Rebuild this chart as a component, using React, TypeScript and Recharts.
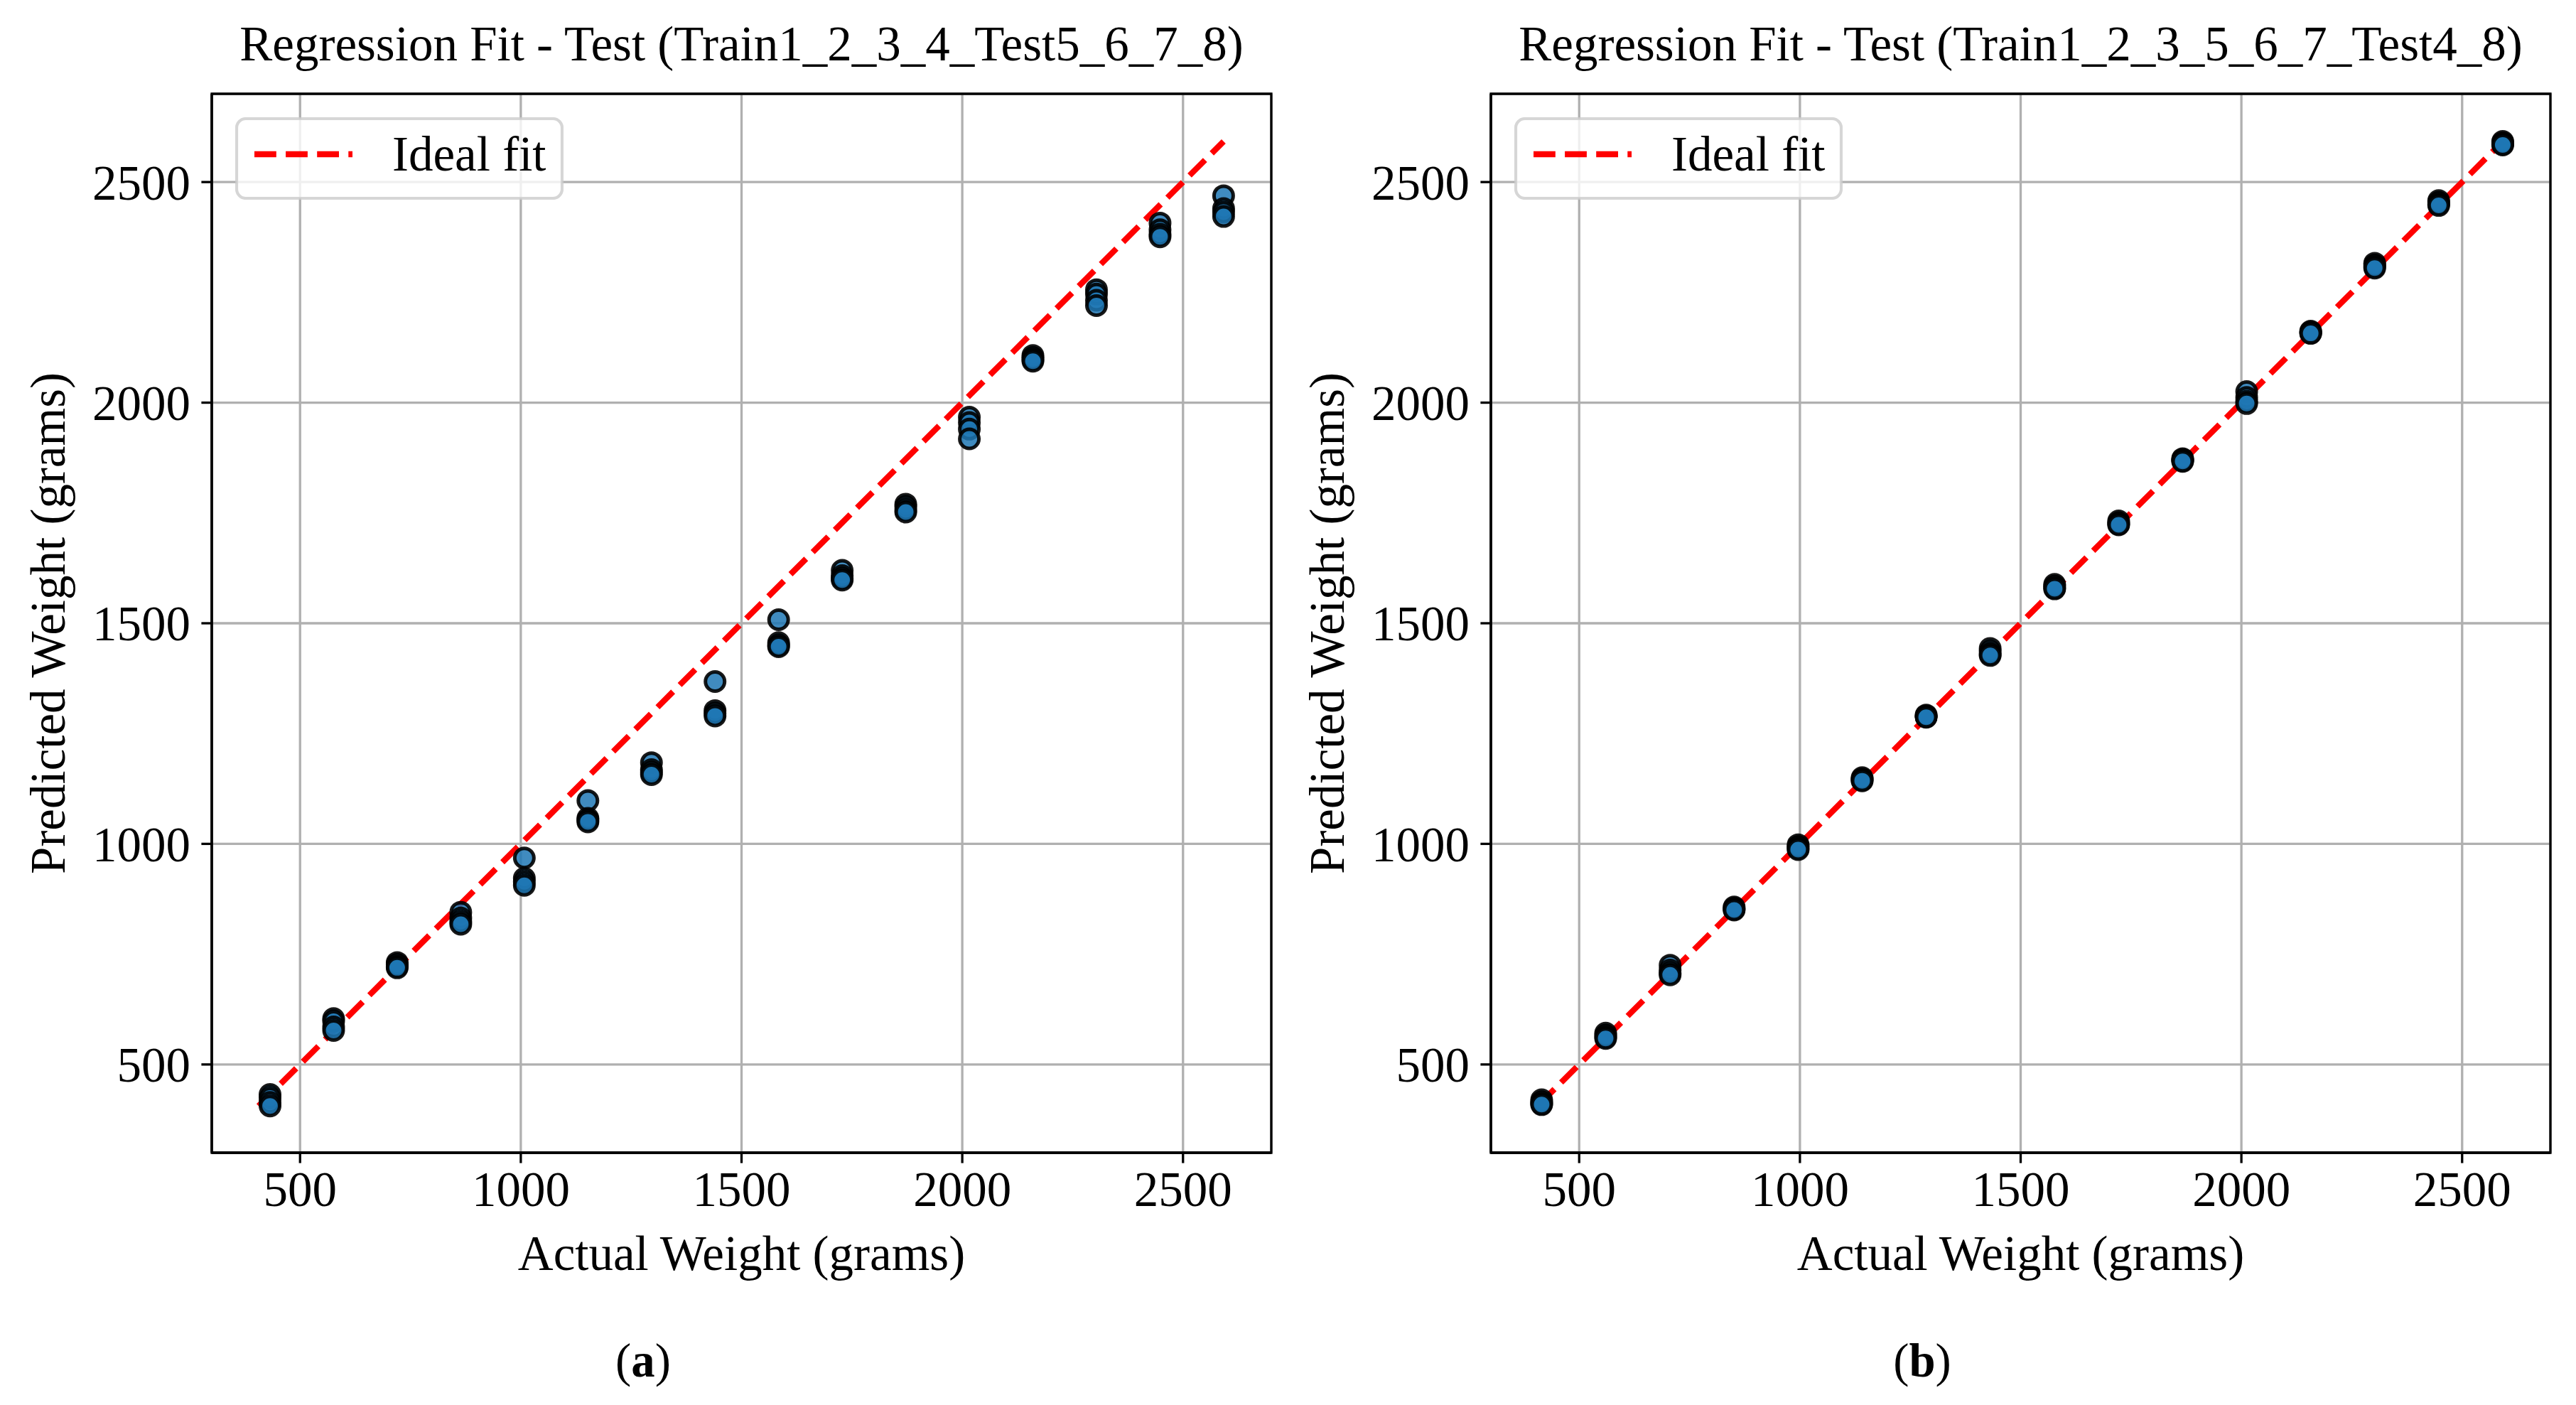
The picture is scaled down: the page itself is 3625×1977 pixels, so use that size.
import { ScatterChart, Scatter, XAxis, YAxis, CartesianGrid, Legend, ReferenceArea, Label } from 'recharts';

const FONT = "'Liberation Serif', 'Times New Roman', serif";
const FS = 69;

// actual weights (x) and the predicted weights at each of them (y)
const actualA = [432, 576, 720, 864, 1008, 1152, 1296, 1440, 1584, 1728, 1872, 2016, 2160, 2304, 2448, 2592];
const predictedA = [
  [432, 424, 414, 406],
  [604, 598, 585, 577],
  [731, 727, 722, 719],
  [845, 832, 824, 818],
  [968, 922, 914, 906],
  [1098, 1058, 1054, 1050],
  [1184, 1168, 1162, 1157],
  [1368, 1302, 1296, 1290],
  [1508, 1456, 1450, 1447],
  [1620, 1608, 1602, 1598],
  [1770, 1764, 1757, 1752],
  [1967, 1955, 1940, 1918],
  [2107, 2102, 2098, 2094],
  [2256, 2246, 2232, 2220],
  [2407, 2392, 2382, 2376],
  [2469, 2440, 2432, 2422],
];

const actualB = [415, 560, 706, 851, 996, 1141, 1286, 1431, 1577, 1722, 1867, 2012, 2157, 2302, 2447, 2592];
const predictedB = [
  [420, 415, 411, 409],
  [571, 566, 562, 559],
  [725, 714, 707, 703],
  [857, 854, 852, 850],
  [998, 994, 990, 987],
  [1150, 1147, 1145, 1143],
  [1292, 1290, 1288, 1287],
  [1443, 1436, 1430, 1427],
  [1588, 1584, 1580, 1578],
  [1732, 1728, 1725, 1723],
  [1873, 1871, 1869, 1867],
  [2025, 2012, 2003, 1998],
  [2162, 2160, 2158, 2157],
  [2316, 2312, 2308, 2305],
  [2458, 2454, 2450, 2447],
  [2592, 2589, 2586, 2584],
];

const ticks = [500, 1000, 1500, 2000, 2500];
const domain: [number, number] = [300, 2700];
const titleA = 'Regression Fit - Test (Train1_2_3_4_Test5_6_7_8)';
const titleB = 'Regression Fit - Test (Train1_2_3_5_6_7_Test4_8)';

const toPoints = (actual: number[], predicted: number[][]) =>
  actual.flatMap((x, i) => predicted[i].map((y) => ({ x, y })));

const idealLine = (actual: number[], predicted: number[][]) => {
  const all = [...actual, ...predicted.flat()];
  const lo = Math.min(...all);
  const hi = Math.max(...all);
  return [{ x: lo, y: lo }, { x: hi, y: hi }];
};

const Dot = (props: any) => (
  <circle
    cx={props.cx}
    cy={props.cy}
    r={13.5}
    fill="#1f77b4"
    fillOpacity={0.85}
    stroke="#000"
    strokeOpacity={0.9}
    strokeWidth={5}
  />
);

const LegendBox = (props: any) => {
  const items = (props.payload || []).filter((p: any) => p.type !== 'none');
  return (
    <svg width={462} height={116}>
      <rect x={2} y={2} width={458} height={112} rx={13} fill="#fff" fillOpacity={0.8} stroke="#ccc" strokeOpacity={0.8} strokeWidth={4.2} />
      {items.map((it: any) => (
        <g key={it.value}>
          <line x1={27} x2={165} y1={52} y2={52} stroke="#ff0000" strokeWidth={8.3} strokeDasharray="30.8 13.3" />
          <text x={221} y={75} fontFamily={FONT} fontSize={FS} fill="#000">{it.value}</text>
        </g>
      ))}
    </svg>
  );
};

const tickStyle = { fill: '#000', fontSize: FS, fontFamily: FONT };

function Panel({ actual, predicted }: { actual: number[]; predicted: number[][] }) {
  const points = toPoints(actual, predicted);
  const line = idealLine(actual, predicted);
  return (
    <ScatterChart width={1800} height={1977} margin={{ top: 132, right: 11, left: 0, bottom: 0 }}>
      <CartesianGrid stroke="#b0b0b0" strokeWidth={3.3} />
      <XAxis
        type="number"
        dataKey="x"
        domain={domain}
        ticks={ticks}
        height={355}
        tickSize={14.6}
        tickMargin={11}
        tick={tickStyle}
        axisLine={{ stroke: '#000', strokeWidth: 3.3 }}
        tickLine={{ stroke: '#000', strokeWidth: 3.3 }}
      >
        <Label
          content={(p: any) => (
            <text x={p.viewBox.x + p.viewBox.width / 2} y={p.viewBox.y + 165} textAnchor="middle" fontFamily={FONT} fontSize={FS} fill="#000">
              Actual Weight (grams)
            </text>
          )}
        />
      </XAxis>
      <YAxis
        type="number"
        dataKey="y"
        domain={domain}
        ticks={ticks}
        width={298}
        tickSize={14.6}
        tickMargin={15.4}
        tick={tickStyle}
        axisLine={{ stroke: '#000', strokeWidth: 3.3 }}
        tickLine={{ stroke: '#000', strokeWidth: 3.3 }}
      >
        <Label
          content={(p: any) => {
            const cx = 91;
            const cy = p.viewBox.y + p.viewBox.height / 2;
            return (
              <text x={cx} y={cy} transform={`rotate(-90, ${cx}, ${cy})`} textAnchor="middle" fontFamily={FONT} fontSize={FS} fill="#000">
                Predicted Weight (grams)
              </text>
            );
          }}
        />
      </YAxis>
      <Legend
        layout="horizontal"
        verticalAlign="middle"
        content={LegendBox}
        wrapperStyle={{ left: 331, top: 165, width: 462, height: 116 }}
      />
      <Scatter
        name="Ideal fit"
        data={line}
        legendType="line"
        fill="#ff0000"
        line={{ stroke: '#ff0000', strokeWidth: 8.3, strokeDasharray: '30.8 13.3' }}
        lineType="joint"
        shape={() => <g />}
        isAnimationActive={false}
      />
      <Scatter name="points" data={points} legendType="none" shape={Dot} isAnimationActive={false} />
      <ReferenceArea x1={300} x2={2700} y1={300} y2={2700} fill="none" stroke="#000" strokeWidth={3.3} />
    </ScatterChart>
  );
}

export default function App() {
  const text = { fontFamily: FONT, fontSize: FS, fill: '#000' };
  return (
    <div style={{ position: 'relative', width: 3625, height: 1977, background: '#fff' }}>
      <style>{'body{margin:0}'}</style>
      <div style={{ position: 'absolute', left: 0, top: 0 }}>
        <Panel actual={actualA} predicted={predictedA} />
      </div>
      <div style={{ position: 'absolute', left: 1800, top: 0 }}>
        <Panel actual={actualB} predicted={predictedB} />
      </div>
      <svg width={3625} height={1977} style={{ position: 'absolute', left: 0, top: 0, pointerEvents: 'none' }}>
        <text x={1043.5} y={85} textAnchor="middle" {...text}>{titleA}</text>
        <text x={2843.5} y={85} textAnchor="middle" {...text}>{titleB}</text>
        <text x={905} y={1937} textAnchor="middle" {...text} fontSize={66.7}>
          (<tspan fontWeight="bold">a</tspan>)
        </text>
        <text x={2705} y={1937} textAnchor="middle" {...text} fontSize={66.7}>
          (<tspan fontWeight="bold">b</tspan>)
        </text>
      </svg>
    </div>
  );
}
